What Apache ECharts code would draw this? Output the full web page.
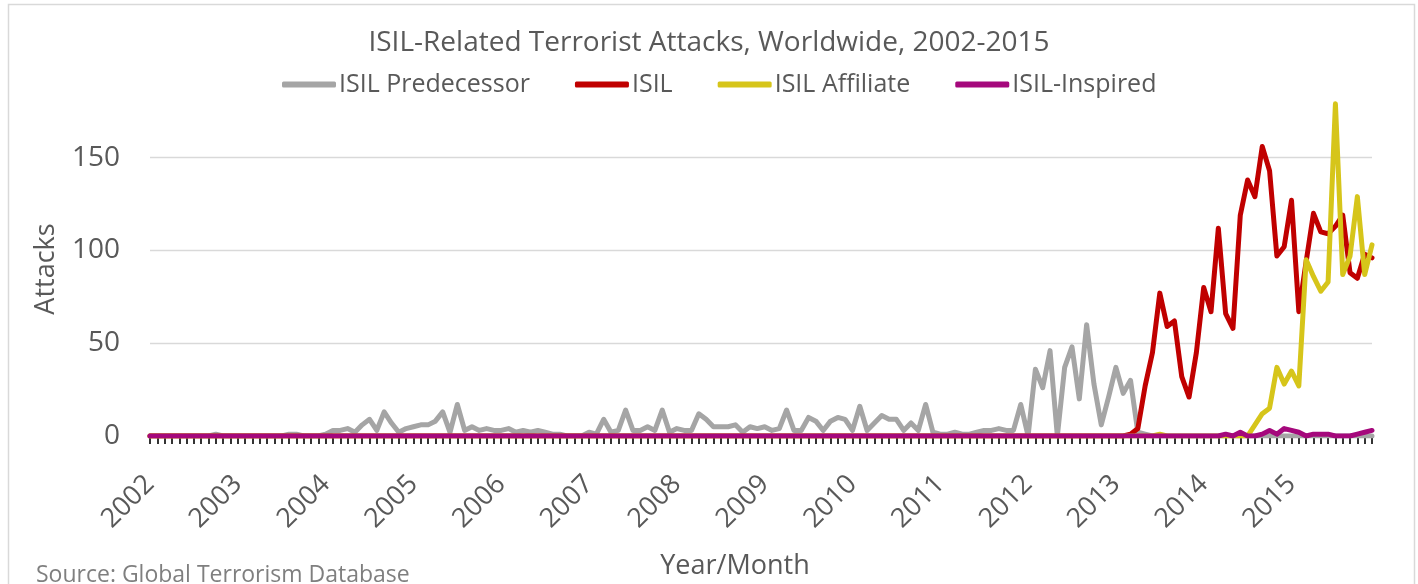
<!DOCTYPE html>
<html>
<head>
<meta charset="utf-8">
<script src="https://cdn.jsdelivr.net/npm/echarts@6/dist/echarts.min.js"></script>
<style>
  html, body { margin: 0; padding: 0; background: #ffffff; }
  #chart { width: 1418px; height: 584px; }
</style>
</head>
<body>
<div id="chart"></div>
<script>
// ---- Data (monthly, Jan 2002 - Dec 2015) ----
var years = [2002, 2003, 2004, 2005, 2006, 2007, 2008, 2009, 2010, 2011, 2012, 2013, 2014, 2015];
var months = ['01','02','03','04','05','06','07','08','09','10','11','12'];

var isilPredecessor = [
  0,0,0,0,0,0,0,0,0,1,0,0,            // 2002
  0,0,0,0,0,0,0,1,1,0,0,0,            // 2003
  1,3,3,4,2,6,9,3,13,7,2,4,           // 2004
  5,6,6,8,13,2,17,3,5,3,4,3,          // 2005
  3,4,2,3,2,3,2,1,1,0,0,0,            // 2006
  2,1,9,2,3,14,3,3,5,3,14,2,          // 2007
  4,3,3,12,9,5,5,5,6,2,5,4,           // 2008
  5,3,4,14,3,3,10,8,3,8,10,9,         // 2009
  3,16,3,7,11,9,9,3,7,3,17,2,         // 2010
  1,1,2,1,1,2,3,3,4,3,3,17,           // 2011
  0,36,26,46,0,37,48,20,60,28,6,21,   // 2012
  37,23,30,2,1,0,0,0,0,0,0,0,         // 2013
  0,0,0,0,0,0,0,0,0,0,0,0,            // 2014
  0,0,0,0,0,0,0,0,0,0,0,0             // 2015
];

var isil = [
  0,0,0,0,0,0,0,0,0,0,0,0,            // 2002
  0,0,0,0,0,0,0,0,0,0,0,0,            // 2003
  0,0,0,0,0,0,0,0,0,0,0,0,            // 2004
  0,0,0,0,0,0,0,0,0,0,0,0,            // 2005
  0,0,0,0,0,0,0,0,0,0,0,0,            // 2006
  0,0,0,0,0,0,0,0,0,0,0,0,            // 2007
  0,0,0,0,0,0,0,0,0,0,0,0,            // 2008
  0,0,0,0,0,0,0,0,0,0,0,0,            // 2009
  0,0,0,0,0,0,0,0,0,0,0,0,            // 2010
  0,0,0,0,0,0,0,0,0,0,0,0,            // 2011
  0,0,0,0,0,0,0,0,0,0,0,0,            // 2012
  0,0,1,4,27,45,77,59,62,32,21,45,    // 2013
  80,67,112,66,58,119,138,129,156,143,97,102, // 2014
  127,67,94,120,110,109,113,119,88,85,98,96   // 2015
];

var isilAffiliate = [
  0,0,0,0,0,0,0,0,0,0,0,0,            // 2002
  0,0,0,0,0,0,0,0,0,0,0,0,            // 2003
  0,0,0,0,0,0,0,0,0,0,0,0,            // 2004
  0,0,0,0,0,0,0,0,0,0,0,0,            // 2005
  0,0,0,0,0,0,0,0,0,0,0,0,            // 2006
  0,0,0,0,0,0,0,0,0,0,0,0,            // 2007
  0,0,0,0,0,0,0,0,0,0,0,0,            // 2008
  0,0,0,0,0,0,0,0,0,0,0,0,            // 2009
  0,0,0,0,0,0,0,0,0,0,0,0,            // 2010
  0,0,0,0,0,0,0,0,0,0,0,0,            // 2011
  0,0,0,0,0,0,0,0,0,0,0,0,            // 2012
  0,0,0,0,0,0,1,0,0,0,0,0,            // 2013
  0,0,0,0,0,0,0,6,12,15,37,28,        // 2014
  35,27,95,86,78,83,179,87,97,129,87,103 // 2015
];

var isilInspired = [
  0,0,0,0,0,0,0,0,0,0,0,0,            // 2002
  0,0,0,0,0,0,0,0,0,0,0,0,            // 2003
  0,0,0,0,0,0,0,0,0,0,0,0,            // 2004
  0,0,0,0,0,0,0,0,0,0,0,0,            // 2005
  0,0,0,0,0,0,0,0,0,0,0,0,            // 2006
  0,0,0,0,0,0,0,0,0,0,0,0,            // 2007
  0,0,0,0,0,0,0,0,0,0,0,0,            // 2008
  0,0,0,0,0,0,0,0,0,0,0,0,            // 2009
  0,0,0,0,0,0,0,0,0,0,0,0,            // 2010
  0,0,0,0,0,0,0,0,0,0,0,0,            // 2011
  0,0,0,0,0,0,0,0,0,0,0,0,            // 2012
  0,0,0,0,0,0,0,0,0,0,0,0,            // 2013
  0,0,0,1,0,2,0,0,1,3,1,4,            // 2014
  3,2,0,1,1,1,0,0,0,1,2,3             // 2015
];

var seriesNames = ['ISIL Predecessor', 'ISIL', 'ISIL Affiliate', 'ISIL-Inspired'];
var yTicks = [0, 50, 100, 150];

// ---- Build categories ----
var categories = [];
years.forEach(function (y) { months.forEach(function (m) { categories.push(y + '-' + m); }); });

var FONT = '"Open Sans", "Noto Sans", sans-serif';
var TXT = '#595959';
var colors = ['#a5a5a5', '#c00000', '#d6c51a', '#a5087c'];
var seriesData = [isilPredecessor, isil, isilAffiliate, isilInspired];

var chart = echarts.init(document.getElementById('chart'), null, { renderer: 'canvas' });

chart.setOption({
  animation: false,
  backgroundColor: '#ffffff',
  title: {
    text: 'ISIL-Related Terrorist Attacks, Worldwide, 2002-2015',
    left: 'center',
    top: 29,
    padding: 0,
    textStyle: { fontFamily: FONT, fontSize: 28, fontWeight: 'normal', color: TXT }
  },
  legend: {
    data: seriesNames,
    top: 72,
    left: 282,
    padding: 0,
    icon: 'roundRect',
    itemWidth: 54,
    itemHeight: 6,
    itemGap: 45,
    textStyle: { fontFamily: FONT, fontSize: 25, color: TXT, padding: [0, 0, 0, -2] }
  },
  grid: {
    left: 150, right: 46, top: 102, bottom: 148,
    containLabel: false,
    outerBoundsMode: 'none'
  },
  xAxis: {
    type: 'category',
    data: categories,
    boundaryGap: false,
    axisLine: { show: true, lineStyle: { color: '#d9d9d9', width: 1 } },
    axisTick: { show: true, interval: 0, length: 8, inside: false, lineStyle: { color: '#000000', width: 1.6 } },
    axisLabel: {
      interval: 11,
      rotate: 45,
      margin: 44,
      fontFamily: FONT,
      fontSize: 27,
      color: TXT,
      formatter: function (v) { return v.slice(0, 4); }
    },
    splitLine: { show: false }
  },
  yAxis: {
    type: 'value',
    min: 0,
    max: 180,
    interval: 50,
    name: 'Attacks',
    nameLocation: 'middle',
    nameRotate: 90,
    nameGap: 90,
    nameTextStyle: { fontFamily: FONT, fontSize: 27, color: TXT },
    axisLine: { show: false },
    axisTick: { show: false },
    axisLabel: {
      margin: 30,
      fontFamily: FONT,
      fontSize: 28,
      color: TXT,
      showMaxLabel: false,
      formatter: function (v) { return yTicks.indexOf(v) >= 0 ? String(v) : ''; }
    },
    splitLine: { show: true, showMaxLine: false, lineStyle: { color: '#d9d9d9', width: 1.3 } }
  },
  graphic: [
    {
      type: 'rect',
      silent: true,
      z: -1,
      shape: { x: 8.5, y: 4.5, width: 1406, height: 620 },
      style: { fill: 'none', stroke: '#d9d9d9', lineWidth: 1.5 }
    },
    {
      type: 'text',
      x: 735,
      y: 566,
      style: {
        text: 'Year/Month',
        fontFamily: FONT, fontSize: 27, fill: TXT,
        textAlign: 'center', textVerticalAlign: 'middle'
      }
    },
    {
      type: 'text',
      x: 36,
      y: 575,
      style: {
        text: 'Source: Global Terrorism Database',
        fontFamily: FONT, fontSize: 23, fill: '#7f7f7f',
        textAlign: 'left', textVerticalAlign: 'middle'
      }
    }
  ],
  series: seriesNames.map(function (name, k) {
    return {
      name: name,
      type: 'line',
      data: seriesData[k],
      symbol: 'none',
      showSymbol: false,
      color: colors[k],
      z: 2 + k,
      lineStyle: { color: colors[k], width: 5, join: 'round', cap: 'round' },
      emphasis: { disabled: true }
    };
  })
});
</script>
</body>
</html>
